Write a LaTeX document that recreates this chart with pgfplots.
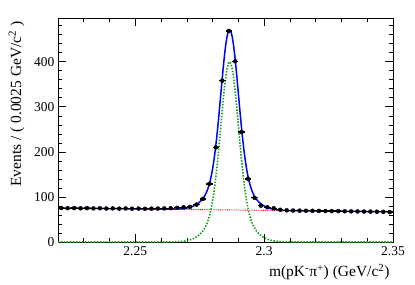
\documentclass[border=0pt]{standalone}
\usepackage{fontspec}
\setmainfont{Liberation Serif}
\usepackage{pgfplots}
\pgfplotsset{compat=1.18}
\definecolor{fitgreen}{RGB}{20,160,20}
\begin{document}
\begin{tikzpicture}
\begin{axis}[
  scale only axis, width=335pt, height=224pt,
  xmin=2.22, xmax=2.35, ymin=0, ymax=497,
  xtick={2.25,2.3,2.35},
  xticklabels={2.25,2.3,2.35},
  minor xtick={2.23,2.24,2.26,2.27,2.28,2.29,2.31,2.32,2.33,2.34},
  ytick={0,100,200,300,400},
  minor ytick={20,40,60,80,120,140,160,180,220,240,260,280,320,340,360,380,420,440,460,480},
  tick align=inside, major tick length=8pt, minor tick length=4pt,
  tick style={black, line width=0.6pt},
  axis line style={line width=0.7pt},
  /pgf/number format/assume math mode=true,
  tick label style={font=\fontsize{13.5}{15}\selectfont},
  xticklabel style={yshift=-1pt},
  label style={font=\fontsize{15.5}{18}\selectfont},
  xlabel={m(pK\textsuperscript{-}π\textsuperscript{+}) (GeV/c\textsuperscript{2})},
  xlabel style={at={(rel axis cs:1,-0.156)}, anchor=base east},
  ylabel={Events / ( 0.0025 GeV/c\textsuperscript{2} )},
  ylabel style={at={(rel axis cs:-0.11,1)}, anchor=base east},
  clip=true,
]
% total fit
\addplot[blue, line width=1.5pt, no markers] coordinates {
(2.22,75.5)(2.23,74.85)(2.24,74.19)(2.25,73.54)(2.2566,73.11)(2.2616,72.83)(2.2646,72.84)(2.2666,73.15)
(2.2686,74.05)(2.2696,74.88)(2.2706,76.06)(2.2716,77.71)(2.2726,79.93)(2.2736,82.95)(2.2746,86.93)
(2.2756,92.16)(2.2766,99.5)(2.2771,104.36)(2.2776,110.13)(2.2781,117.3)(2.2786,126.07)(2.2791,136.93)
(2.2796,150.1)(2.2801,166.07)(2.2806,185.03)(2.2811,207.2)(2.2816,232.57)(2.2821,260.64)(2.2826,291.1)
(2.2831,322.87)(2.2836,354.94)(2.2841,385.81)(2.2846,413.87)(2.2851,437.74)(2.2856,455.91)(2.2861,467.28)
(2.2866,471.15)(2.2871,467.21)(2.2876,455.78)(2.2881,437.55)(2.2886,413.62)(2.2891,385.48)(2.2896,354.55)
(2.2901,322.42)(2.2906,290.59)(2.2911,260.05)(2.2916,231.92)(2.2921,206.49)(2.2926,184.25)(2.2931,165.22)
(2.2936,149.19)(2.2941,135.96)(2.2946,125.02)(2.2951,116.19)(2.2956,108.96)(2.2961,103.13)(2.2966,98.19)
(2.2976,90.73)(2.2986,85.36)(2.2996,81.26)(2.3006,78.1)(2.3016,75.75)(2.3026,73.97)(2.3036,72.66)
(2.3046,71.7)(2.3066,70.54)(2.3086,69.97)(2.3116,69.56)(2.3166,69.18)(2.33,68.31)(2.34,67.65)(2.35,67.0)
};
% background
\addplot[red, line width=0.9pt, dash pattern=on 0.9pt off 0.9pt, no markers] coordinates {
(2.22,75.5)(2.35,67.0)
};
% signal
\addplot[fitgreen, line width=1.6pt, dash pattern=on 1.5pt off 1.5pt, no markers] coordinates {
(2.22,0)(2.2566,0)(2.2616,0.05)(2.2646,0.26)(2.2666,0.7)
(2.2686,1.73)(2.2696,2.62)(2.2706,3.87)(2.2716,5.58)(2.2726,7.87)(2.2736,10.96)(2.2746,15.0)
(2.2756,20.3)(2.2766,27.7)(2.2771,32.6)(2.2776,38.4)(2.2781,45.6)(2.2786,54.4)(2.2791,65.3)
(2.2796,78.5)(2.2801,94.5)(2.2806,113.5)(2.2811,135.7)(2.2816,161.1)(2.2821,189.2)(2.2826,219.7)
(2.2831,251.5)(2.2836,283.6)(2.2841,314.5)(2.2846,342.6)(2.2851,366.5)(2.2856,384.7)(2.2861,396.1)
(2.2866,400)(2.2871,396.1)(2.2876,384.7)(2.2881,366.5)(2.2886,342.6)(2.2891,314.5)(2.2896,283.6)
(2.2901,251.5)(2.2906,219.7)(2.2911,189.2)(2.2916,161.1)(2.2921,135.7)(2.2926,113.5)(2.2931,94.5)
(2.2936,78.5)(2.2941,65.3)(2.2946,54.4)(2.2951,45.6)(2.2956,38.4)(2.2961,32.6)(2.2966,27.7)
(2.2976,20.3)(2.2986,15.0)(2.2996,10.96)(2.3006,7.87)(2.3016,5.58)(2.3026,3.87)(2.3036,2.62)
(2.3046,1.73)(2.3066,0.7)(2.3086,0.26)(2.3116,0.05)(2.3166,0)(2.35,0)
};
% data
\addplot[black, only marks, mark=*, mark size=2pt,
  error bars/.cd, x dir=both, x explicit, y dir=both, y explicit,
  error bar style={line width=1.3pt}, error mark=none] coordinates {
(2.22125,75.5) +- (0.00125,2)
(2.22375,75.0) +- (0.00125,2)
(2.22625,75.3) +- (0.00125,2)
(2.22875,74.8) +- (0.00125,2)
(2.23125,75.2) +- (0.00125,2)
(2.23375,74.6) +- (0.00125,2)
(2.23625,74.9) +- (0.00125,2)
(2.23875,74.3) +- (0.00125,2)
(2.24125,74.6) +- (0.00125,2)
(2.24375,74.0) +- (0.00125,2)
(2.24625,74.4) +- (0.00125,2)
(2.24875,73.9) +- (0.00125,2)
(2.25125,74.2) +- (0.00125,2)
(2.25375,73.7) +- (0.00125,2)
(2.25625,74.0) +- (0.00125,2)
(2.25875,74.2) +- (0.00125,2)
(2.26125,74.5) +- (0.00125,2)
(2.26375,75.0) +- (0.00125,2)
(2.26625,76.0) +- (0.00125,2)
(2.26875,77.0) +- (0.00125,2)
(2.27125,78.0) +- (0.00125,2)
(2.27375,83.0) +- (0.00125,2)
(2.27625,95.5) +- (0.00125,2)
(2.27875,129.0) +- (0.00125,2)
(2.28125,210.0) +- (0.00125,2)
(2.28375,358.0) +- (0.00125,2)
(2.28625,468.0) +- (0.00125,2)
(2.28875,401.0) +- (0.00125,2)
(2.29125,244.0) +- (0.00125,2)
(2.29375,140.0) +- (0.00125,2)
(2.29625,98.0) +- (0.00125,2)
(2.29875,80.5) +- (0.00125,2)
(2.30125,77.0) +- (0.00125,2)
(2.30375,75.0) +- (0.00125,2)
(2.30625,71.5) +- (0.00125,2)
(2.30875,70.3) +- (0.00125,2)
(2.31125,69.8) +- (0.00125,2)
(2.31375,69.5) +- (0.00125,2)
(2.31625,69.3) +- (0.00125,2)
(2.31875,69.2) +- (0.00125,2)
(2.32125,69.0) +- (0.00125,2)
(2.32375,68.8) +- (0.00125,2)
(2.32625,68.6) +- (0.00125,2)
(2.32875,68.5) +- (0.00125,2)
(2.33125,68.2) +- (0.00125,2)
(2.33375,68.0) +- (0.00125,2)
(2.33625,67.8) +- (0.00125,2)
(2.33875,67.6) +- (0.00125,2)
(2.34125,67.4) +- (0.00125,2)
(2.34375,67.2) +- (0.00125,2)
(2.34625,67.0) +- (0.00125,2)
(2.34875,66.3) +- (0.00125,2)
};
\node[anchor=base west, font=\fontsize{12}{13}\selectfont, inner sep=0pt] at ([yshift=3pt]rel axis cs:0,1) {$\times$10\textsuperscript{3}};
\end{axis}
\pgfresetboundingbox
\path ([shift={(-58pt,-42pt)}]current axis.south west) rectangle ([shift={(22pt,18pt)}]current axis.north east);
\end{tikzpicture}
\end{document}
